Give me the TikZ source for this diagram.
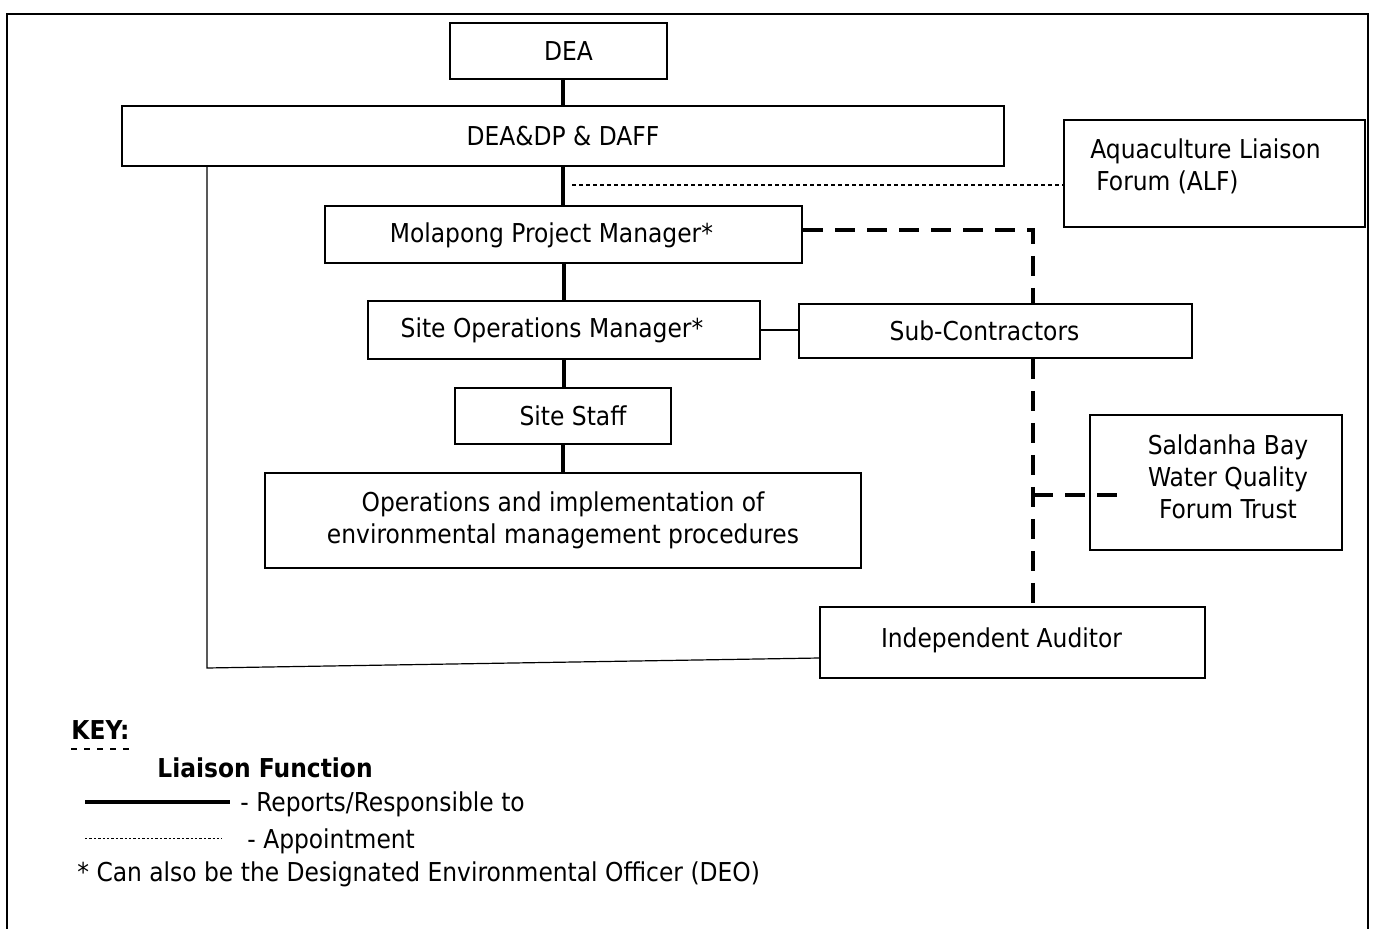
\documentclass[tikz,border=0pt]{standalone}
\usepackage{fontspec}
\setmainfont{DejaVu Sans Condensed}
\usepackage{tikz}
\usetikzlibrary{calc}

\begin{document}
\begin{tikzpicture}[x=0.5pt, y=-0.5pt, font=\fontsize{13}{16}\selectfont,
  box/.style={draw, line width=1pt, fill=white, inner sep=2pt, align=center},
  rep/.style={line width=2pt},
  thinline/.style={line width=0.6pt},
  appt/.style={line width=0.6pt, dash pattern=on 2pt off 1.5pt},
  liai/.style={line width=2.2pt, dash pattern=on 10pt off 6pt},
  keytext/.style={anchor=west, inner sep=0pt}]
\useasboundingbox (0,0) rectangle (1376,929);
\draw[line width=1pt] (7,929) -- (7,14) -- (1368,14) -- (1368,929);
\path
(558.5,51) node[box, minimum width=108.5pt, minimum height=28pt] (dea) {\hspace{10pt}DEA};
\path
(563,136) node[box, minimum width=441pt, minimum height=30pt] (dp) {DEA\&DP \& DAFF};
\path
(1214.5,173.5) node[box, minimum width=150.5pt, minimum height=53.5pt] (alf) {};
\path
(1090,166.5) node[anchor=west, inner sep=0pt, align=left] (alftext) {Aquaculture Liaison\\ \hspace{3pt}Forum (ALF)};
\path
(563.5,235) node[box, minimum width=238.5pt, minimum height=28.5pt] (mpm) {Molapong Project Manager*\hspace{12pt}};
\path
(564,330) node[box, minimum width=196pt, minimum height=29pt] (som) {Site Operations Manager*\hspace{12pt}};
\path
(995.5,331) node[box, minimum width=196.5pt, minimum height=27pt] (sub) {Sub-Contractors\hspace{11pt}};
\path
(563,416) node[box, minimum width=108pt, minimum height=28pt] (staff) {\hspace{10pt}Site Staff};
\path
(563,520.5) node[box, minimum width=298pt, minimum height=47.5pt] (ops) {Operations and implementation of\\ environmental management procedures};
\path
(1216,482.5) node[box, minimum width=126pt, minimum height=67.5pt] (sbw) {\hspace{12pt}Saldanha Bay\\ \hspace{12pt}Water Quality\\ \hspace{12pt}Forum Trust\rule[-6pt]{0pt}{1pt}};
\path
(1012.5,642.5) node[box, minimum width=192.5pt, minimum height=35.5pt] (aud) {Independent Auditor\hspace{11pt}\rule[-5pt]{0pt}{1pt}};
\coordinate (c1) at (207,668);
\coordinate (c2) at (820,658);
\coordinate (a1) at (572,185);
\coordinate (l1) at (1033,230);
\coordinate (l2) at (1120,495);
\draw[rep] (dea.south -| dp.north) -- (dp.north);
\draw[rep] (dp.south) -- (dp.south |- mpm.north);
\draw[rep] (mpm.south) -- (mpm.south |- som.north);
\draw[rep] (som.south) -- (som.south |- staff.north);
\draw[rep] (staff.south) -- (staff.south |- ops.north);
\draw[thinline] (som.east) -- (som.east -| sub.west);
\draw[thinline] (dp.south -| c1) -- (c1) -- (c2);
\draw[appt] (a1) -- (a1 -| alf.west);
\draw[liai] (mpm.east |- l1) -- (l1) -- (l1 |- sub.north);
\draw[liai] (l1 |- sub.south) -- (l1 |- aud.north);
\draw[liai] (l1 |- l2) -- (l2);
\path
(71,730) node[keytext] (key) {\textbf{KEY:}};
\draw[line width=0.6pt, dash pattern=on 3pt off 3.5pt] (71,749) -- (135,749);
\path
(157,768) node[keytext] (liaison) {\textbf{Liaison Function}};
\draw[rep] (85,802) -- (230,802);
\path
(240,804) node[keytext] (reports) {- Reports/Responsible to};
\draw[line width=0.5pt, dash pattern=on 1.2pt off 1pt] (85,838) -- (222,838);
\path
(247,841) node[keytext] (appoint) {- Appointment};
\path
(77,874) node[keytext] (deo) {* Can also be the Designated Environmental Officer (DEO)};
\end{tikzpicture}
\end{document}
